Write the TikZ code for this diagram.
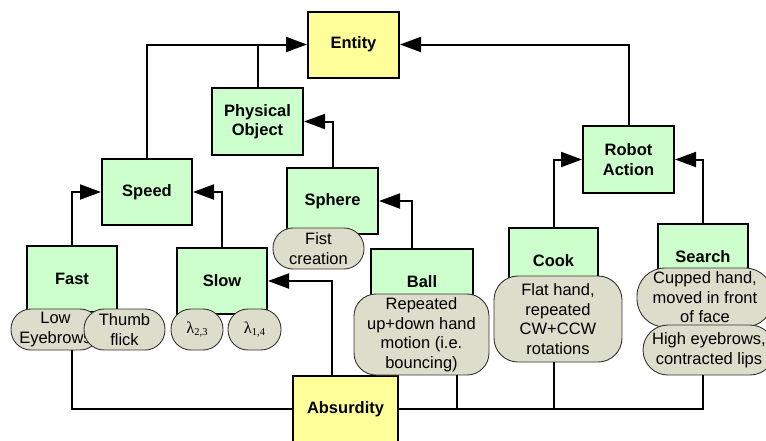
\documentclass[tikz,border=0pt]{standalone}
\usepackage{fontspec}
\setmainfont{Liberation Sans}
\newfontfamily\greekserif{Liberation Serif}
\usetikzlibrary{arrows.meta}
\definecolor{boxgreen}{HTML}{CCFFCC}
\definecolor{boxyellow}{HTML}{FFFF99}
\definecolor{pillgray}{HTML}{DDDDCC}
\definecolor{pilledge}{HTML}{333333}
% lambda with a two-index subscript, in a Times-like face
\newcommand{\lamidx}[1]{{\greekserif λ\raisebox{-0.35ex}{\fontsize{10.5}{10.5}\selectfont #1}}}

\begin{document}
\begin{tikzpicture}[x=1pt,y=-1pt,
  concept/.style={draw, line width=2pt, fill=boxgreen,
    font=\fontsize{16.5}{19.5}\selectfont\bfseries, align=center,
    inner sep=0pt, minimum height=66pt},
  root/.style={concept, fill=boxyellow},
  cue/.style={draw=pilledge, line width=0.9pt, fill=pillgray,
    font=\fontsize{16.5}{19.5}\selectfont, align=center,
    inner sep=0pt, rounded corners=#1},
  cue/.default=20pt,
  link/.style={line width=2pt},
  isa/.style={link, -{Triangle[length=21pt,width=15pt]}}
]
\useasboundingbox (0,0) rectangle (766,440);
\clip (0,0) rectangle (766,440);

% concept boxes
\node[root, minimum width=91pt] (entity) at (353.5,44.5) {Entity};
\node[concept, minimum width=91pt, minimum height=67pt] (phys) at (257.5,121.5) {Physical\\Object};
\node[concept, minimum width=91pt, minimum height=67pt] (robot) at (628.5,159.5) {Robot\\Action};
\node[concept, minimum width=90pt] (speed) at (147,192) {Speed};
\node[concept, minimum width=91pt] (sphere) at (332.5,201) {Sphere};
\node[concept, minimum width=90pt] (fast) at (72,279) {Fast};
\node[concept, minimum width=90pt] (slow) at (222,281) {Slow};
\node[concept, minimum width=102pt] (ball) at (422,282) {Ball};
\node[concept, minimum width=89pt] (cook) at (553.5,261) {Cook};
\node[concept, minimum width=90pt] (search) at (703,257) {Search};
\node[root, minimum width=105pt] (absurd) at (345.5,409) {Absurdity};

% gesture / cue pills
\node[cue, minimum width=91pt, minimum height=41pt] (fist) at (318.5,248.5) {Fist\\creation};
\node[cue, minimum width=89pt, minimum height=41pt] (loweye) at (55.5,329.5) {Low\\Eyebrows};
\node[cue, minimum width=81pt, minimum height=41pt] (thumb) at (124.5,329.5) {Thumb\\flick};
\node[cue, minimum width=52pt, minimum height=41pt] (lamA) at (197,329.5) {\lamidx{2,3}};
\node[cue, minimum width=53pt, minimum height=41pt] (lamB) at (254.5,329.5) {\lamidx{1,4}};
\node[cue=22pt, minimum width=135pt, minimum height=81pt] (ballcue) at (421.5,334.5)
  {Repeated\\up+down hand\\motion (i.e.\\bouncing)};
\node[cue=24pt, minimum width=128pt, minimum height=86pt] (cookcue) at (558,319)
  {Flat hand,\\repeated\\CW+CCW\\rotations};
\node[cue=28pt, minimum width=136pt, minimum height=59pt] (searchcue) at (705,297.5)
  {Cupped hand,\\moved in front\\of face};
\node[cue=25pt, minimum width=132pt, minimum height=50pt] (facecue) at (709,350)
  {High eyebrows,\\contracted lips};

% is-a links
\draw[isa] (speed.north) |- (entity.west);
\draw[link] (phys.north) -- (phys.north |- entity.west);
\draw[isa] (robot.north) |- (entity.east);
\draw[isa] (sphere.north) |- (phys.east);
\draw[isa] ([xshift=-10pt]ball.north) |- (sphere.east);
\draw[isa] (fast.north) |- (speed.west);
\draw[isa] (slow.north) |- (speed.east);
\draw[isa] (cook.north) |- (robot.west);
\draw[isa] (search.north) |- (robot.east);
\draw[isa] ([xshift=-13.5pt]absurd.north) |- (slow.east);

% links into Absurdity
\draw[link] (fast.center |- loweye.south) |- (absurd.west);
\draw[link] (absurd.east) -| (search.center |- facecue.south);
\draw[link] ([xshift=35.5pt]ballcue.south) -- ([xshift=35.5pt]ballcue.south |- absurd.east);
\draw[link] (cookcue.south -| cook.center) -- (cook.center |- absurd.east);
\end{tikzpicture}
\end{document}
